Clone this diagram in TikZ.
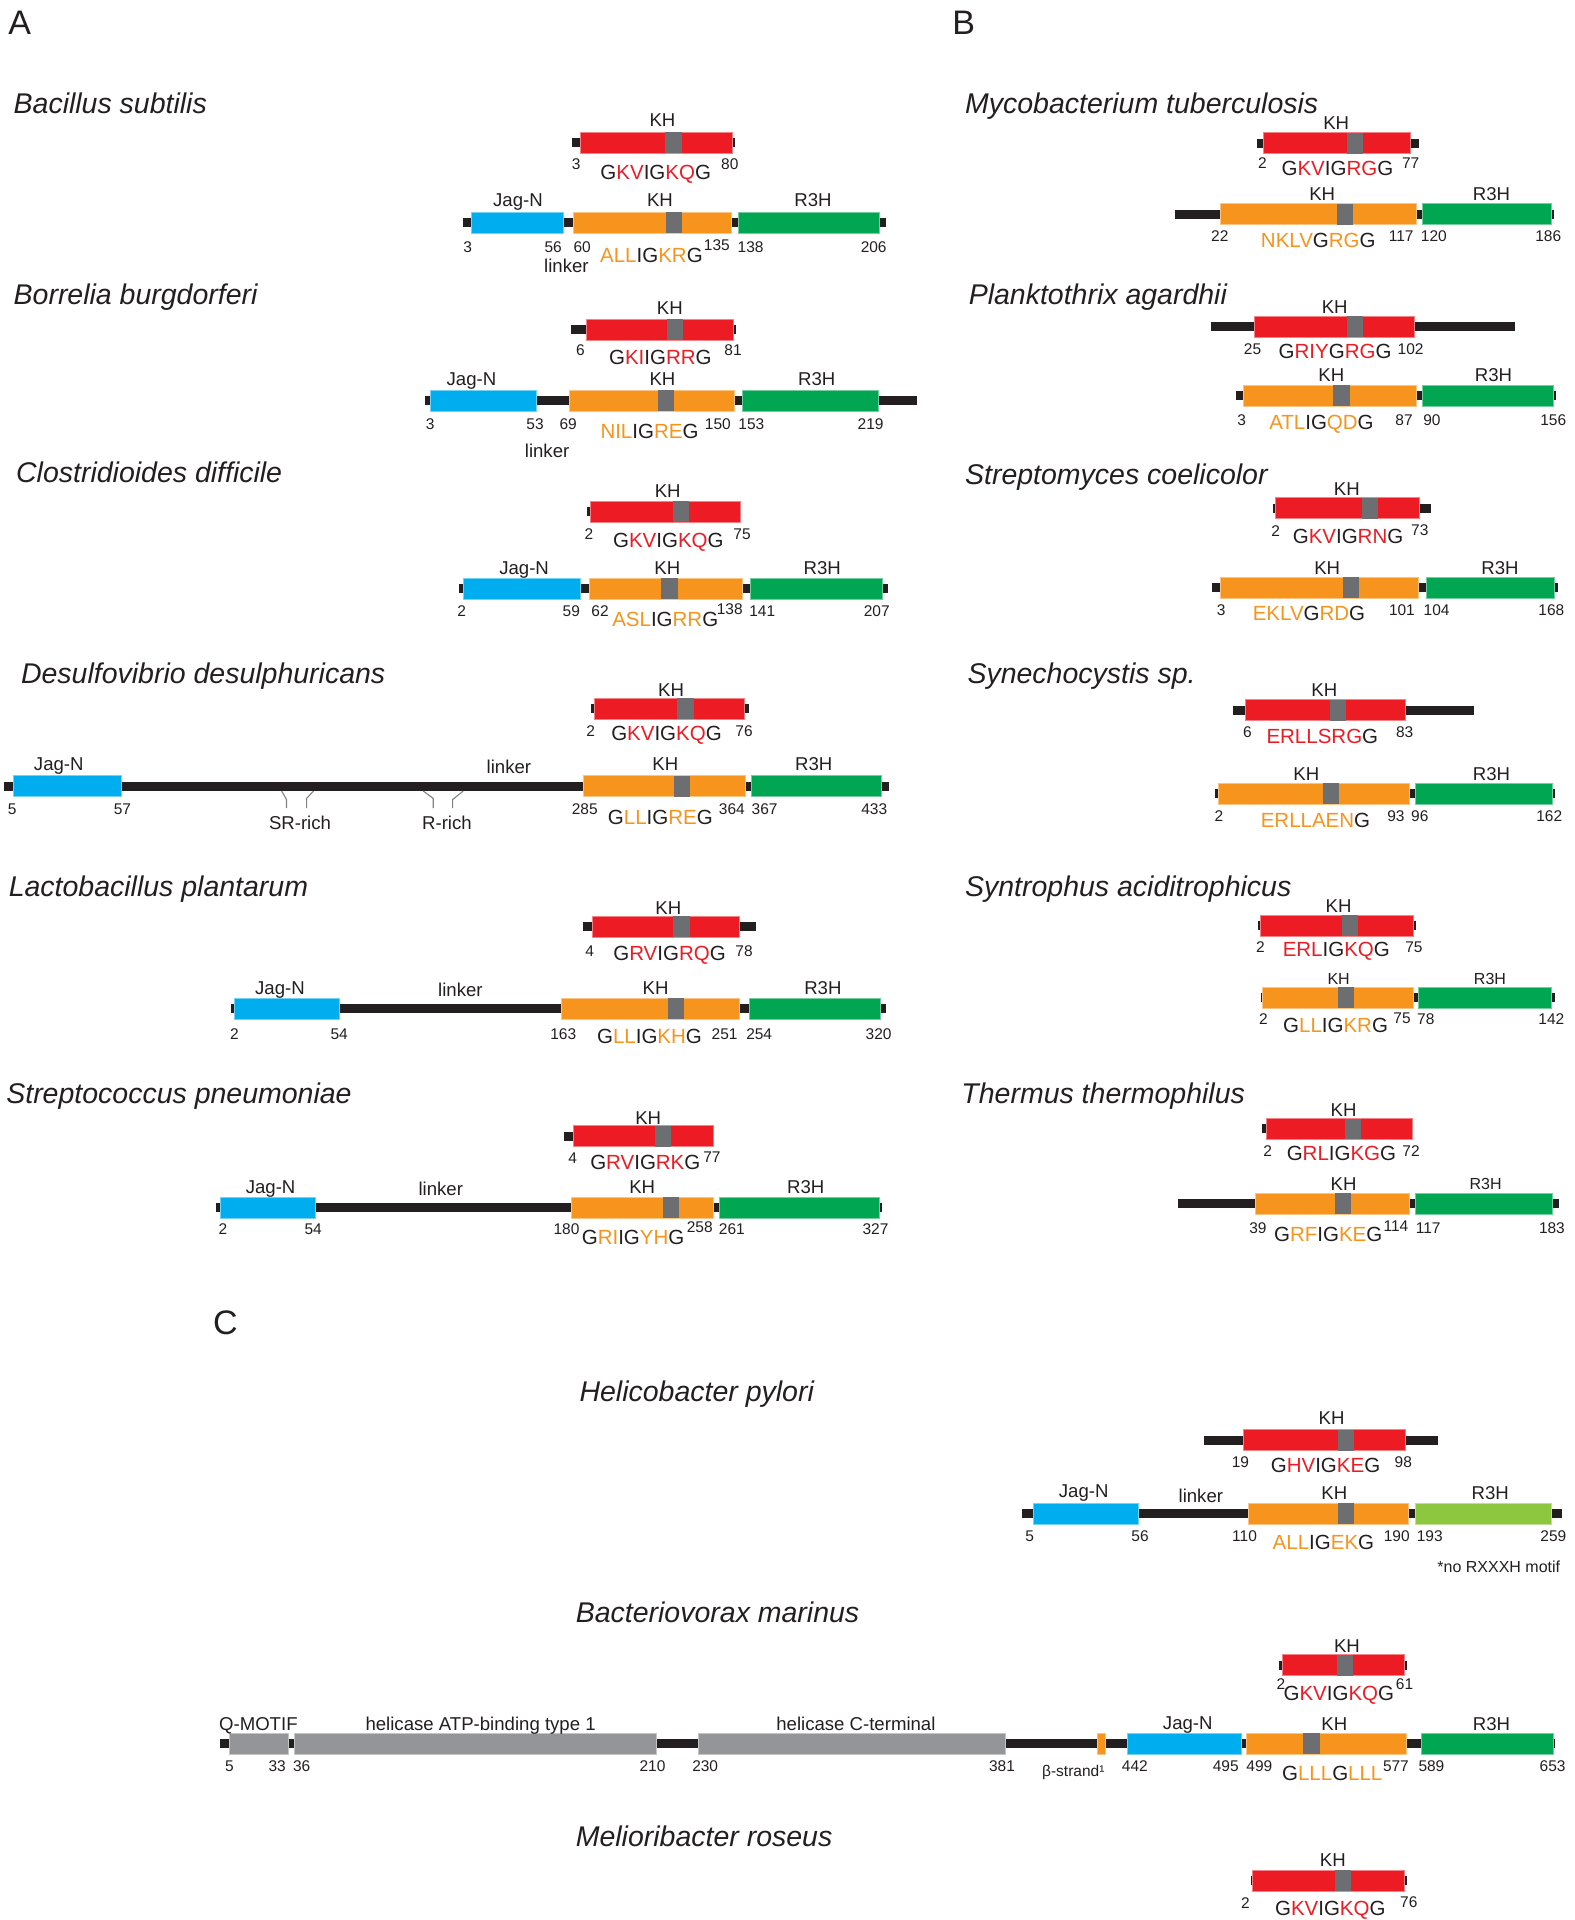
\documentclass[tikz,border=0pt]{standalone}
\usepackage{fontspec}
\setmainfont{Liberation Sans}
\definecolor{kred}{HTML}{ED1C24}
\definecolor{korange}{HTML}{F7941D}
\definecolor{kblue}{HTML}{00AEEF}
\definecolor{kgreen}{HTML}{00A651}
\definecolor{klgreen}{HTML}{8DC63F}
\definecolor{khel}{HTML}{939598}
\definecolor{kmotif}{HTML}{6D6E71}
\definecolor{kblack}{HTML}{231F20}
\definecolor{kbrack}{HTML}{808285}
\newcommand\sr[1]{\textcolor{kred}{#1}}
\newcommand\so[1]{\textcolor{korange}{#1}}
\newcommand\bbone[3]{\draw[bbl] (#1,#3) -- (#2,#3);}
\newcommand\pdom[4]{\filldraw[fill=#4,draw=#4!55!white,line width=0.7pt] (#1,#3-8.57) rectangle (#2,#3+8.57);}
\newcommand\pmot[2]{\fill[kmotif] (#1-6.6,#2-8.57) rectangle (#1+6.6,#2+8.57);}
\newcommand\lab[3]{\node[lab] at (#1,#2) {#3};}
\newcommand\slab[3]{\node[lab,font=\fontsize{16}{18}\selectfont,text height=11.5pt] at (#1,#2) {#3};}
\newcommand\nm[3]{\node[num] at (#1,#2) {#3};}
\newcommand\sq[3]{\node[sqs] at (#1,#2) {#3};}
\newcommand\spc[3]{\node[spn,anchor=west] at (#1,#2) {#3};}
\newcommand\spcc[3]{\node[spn] at (#1,#2) {#3};}
\begin{document}
\begin{tikzpicture}[x=1.2247pt,y=-1.2247pt,
  bbl/.style={line width=9pt,color=kblack},
  lab/.style={font=\fontsize{18.6}{20}\selectfont,inner sep=0pt,text height=13.3pt,text depth=0pt,anchor=center,text=kblack},
  num/.style={font=\fontsize{15.5}{17}\selectfont,inner sep=0pt,text height=11.1pt,text depth=0pt,anchor=center,text=kblack},
  sqs/.style={font=\fontsize{20.5}{22}\selectfont,inner sep=0pt,text height=14.7pt,text depth=0pt,anchor=center,text=kblack},
  spn/.style={font=\fontsize{28.5}{30}\selectfont\itshape,inner sep=0pt,text height=20.4pt,text depth=0pt,anchor=center,text=kblack},
  pl/.style={font=\fontsize{34}{36}\selectfont,inner sep=0pt,text height=24.4pt,text depth=0pt,anchor=center,text=kblack},
  brk/.style={draw=kbrack,line width=1.1pt}]
\fill[white] (0,0) rectangle (1286,1568);
\useasboundingbox (0,0) rectangle (1286,1568);
% panel letters
\node[pl] (pA) at (16,18) {A};
\node[pl] (pB) at (787,18) {B};
\node[pl] (pC) at (184,1080) {C};
% species
\spc{11}{84}{Bacillus subtilis}
\spc{11}{240}{Borrelia burgdorferi}
\spc{13}{386}{Clostridioides difficile}
\spc{17}{550}{Desulfovibrio desulphuricans}
\spc{7}{724}{Lactobacillus plantarum}
\spc{5}{893}{Streptococcus pneumoniae}
\spc{788}{84}{Mycobacterium tuberculosis}
\spc{791}{240}{Planktothrix agardhii}
\spc{788}{387}{Streptomyces coelicolor}
\spc{790}{550}{Synechocystis sp.}
\spc{788}{724}{Syntrophus aciditrophicus}
\spc{785}{893}{Thermus thermophilus}
\spcc{569}{1136}{Helicobacter pylori}
\spcc{586}{1317}{Bacteriovorax marinus}
\spcc{575}{1500}{Melioribacter roseus}
% ===== A: Bacillus subtilis
\bbone{467}{600.5}{116.5}
\pdom{474}{597.7}{116.5}{kred}
\pmot{550}{116.5}
\lab{541}{97.5}{KH}
\nm{470.5}{133.5}{3}
\nm{596}{133.5}{80}
\sq{535.5}{140.5}{G\sr{KV}IG\sr{KQ}G}
\bbone{378.5}{723.5}{182}
\pdom{385}{460}{182}{kblue}
\pdom{468.6}{597.2}{182}{korange}
\pmot{550.4}{182}
\pdom{602.7}{718}{182}{kgreen}
\lab{423}{163}{Jag-N}
\lab{539}{163}{KH}
\lab{664}{163}{R3H}
\nm{382}{201.5}{3}
\nm{451.8}{201.5}{56}
\nm{475.5}{201.5}{60}
\nm{585.4}{200}{135}
\nm{613}{201.5}{138}
\nm{713.5}{201.5}{206}
\sq{532}{208.5}{\so{ALL}IG\so{KR}G}
\lab{462.6}{217}{linker}
% ===== Borrelia burgdorferi
\bbone{466}{601}{269}
\pdom{479}{598.7}{269}{kred}
\pmot{551}{269}
\lab{547}{251}{KH}
\nm{474}{286}{6}
\nm{598.7}{286}{81}
\sq{539.3}{292}{G\sr{KI}IG\sr{RR}G}
\bbone{347.4}{748.6}{327}
\pdom{351.8}{438.4}{327}{kblue}
\pdom{465}{600}{327}{korange}
\pmot{544}{327}
\pdom{606}{717.5}{327}{kgreen}
\lab{385}{309}{Jag-N}
\lab{541}{309}{KH}
\lab{667}{309}{R3H}
\nm{351.3}{346.5}{3}
\nm{437}{346.5}{53}
\nm{464}{346.5}{69}
\nm{586.3}{346.5}{150}
\nm{613.6}{346.5}{153}
\nm{711}{346.5}{219}
\sq{530.4}{352}{\so{NIL}IG\so{RE}G}
\lab{446.8}{368}{linker}
% ===== Clostridioides difficile
\bbone{479}{604.7}{418}
\pdom{482.4}{604.7}{418}{kred}
\pmot{556}{418}
\lab{545.3}{401}{KH}
\nm{481}{436}{2}
\nm{606}{436}{75}
\sq{545.8}{441}{G\sr{KV}IG\sr{KQ}G}
\bbone{374.6}{725.4}{481}
\pdom{378}{474}{481}{kblue}
\pdom{481}{606}{481}{korange}
\pmot{546.8}{481}
\pdom{612.6}{720.4}{481}{kgreen}
\lab{428}{463.5}{Jag-N}
\lab{545}{463.5}{KH}
\lab{671.5}{463.5}{R3H}
\nm{377}{499}{2}
\nm{466.6}{499}{59}
\nm{490}{499}{62}
\nm{596}{497}{138}
\nm{622.5}{499}{141}
\nm{716}{499}{207}
\sq{543.3}{506}{\so{ASL}IG\so{RR}G}
% ===== Desulfovibrio desulphuricans
\bbone{483}{611.6}{579}
\pdom{485}{607.6}{579}{kred}
\pmot{559.8}{579}
\lab{548}{563}{KH}
\nm{482.4}{597}{2}
\nm{607.6}{597}{76}
\sq{544.3}{599}{G\sr{KV}IG\sr{KQ}G}
\bbone{3.5}{726.4}{642}
\pdom{10.9}{99}{642}{kblue}
\pdom{476.5}{608.6}{642}{korange}
\pmot{557}{642}
\pdom{613.6}{720}{642}{kgreen}
\lab{48}{624}{Jag-N}
\lab{415.6}{626}{linker}
\lab{543.3}{624}{KH}
\lab{664.5}{624}{R3H}
\nm{10}{661}{5}
\nm{100}{661}{57}
\nm{477.5}{661}{285}
\nm{597.7}{661}{364}
\nm{624.4}{661}{367}
\nm{714}{661}{433}
\sq{539.3}{667}{G\so{LL}IG\so{RE}G}
\draw[brk] (230,646) -- (234,653) -- (234,660);
\draw[brk] (256,646) -- (250.4,652) -- (250.4,660);
\draw[brk] (345.6,646) -- (353.8,652) -- (353.8,660);
\draw[brk] (378.3,646) -- (369.6,653) -- (369.6,660);
\lab{245}{672}{SR-rich}
\lab{365}{672}{R-rich}
% ===== Lactobacillus plantarum
\bbone{476}{617.5}{757}
\pdom{484}{603.7}{757}{kred}
\pmot{556.5}{757}
\lab{545.8}{741}{KH}
\nm{481.5}{777}{4}
\nm{607.6}{777}{78}
\sq{546.8}{778}{G\sr{RV}IG\sr{RQ}G}
\bbone{189}{723.4}{824}
\pdom{191}{277}{824}{kblue}
\pdom{458.7}{603.7}{824}{korange}
\pmot{552.4}{824}
\pdom{611.6}{719}{824}{kgreen}
\lab{228.6}{806.5}{Jag-N}
\lab{376}{808}{linker}
\lab{535.4}{806.5}{KH}
\lab{672}{806.5}{R3H}
\nm{191.5}{844}{2}
\nm{277}{844}{54}
\nm{460}{844}{163}
\nm{591.8}{844}{251}
\nm{620}{844}{254}
\nm{717.5}{844}{320}
\sq{530.4}{846}{G\so{LL}IG\so{KH}G}
% ===== Streptococcus pneumoniae
\bbone{461}{582.4}{928}
\pdom{468}{582.4}{928}{kred}
\pmot{541.5}{928}
\lab{529.4}{913}{KH}
\nm{467.6}{946}{4}
\nm{581.4}{945}{77}
\sq{527}{949}{G\sr{RV}IG\sr{RK}G}
\bbone{176.6}{720}{986}
\pdom{180}{257.3}{986}{kblue}
\pdom{466.6}{582.4}{986}{korange}
\pmot{548}{986}
\pdom{587.8}{718}{986}{kgreen}
\lab{221}{969}{Jag-N}
\lab{360}{971}{linker}
\lab{524.5}{969}{KH}
\lab{658}{969}{R3H}
\nm{182}{1003.5}{2}
\nm{255.8}{1003.5}{54}
\nm{462.6}{1003.5}{180}
\nm{571.5}{1002}{258}
\nm{597.7}{1003.5}{261}
\nm{715}{1003.5}{327}
\sq{517}{1010}{G\so{RI}IG\so{YH}G}
% ===== B: Mycobacterium tuberculosis
\bbone{1026.2}{1159}{117}
\pdom{1031.7}{1152}{117}{kred}
\pmot{1106.8}{117}
\lab{1091.2}{100}{KH}
\nm{1031}{133}{2}
\nm{1152}{133}{77}
\sq{1092.2}{137}{G\sr{KV}IG\sr{RG}G}
\bbone{959.5}{1269}{175}
\pdom{996.9}{1156.3}{175}{korange}
\pmot{1098.7}{175}
\pdom{1161.8}{1266.9}{175}{kgreen}
\lab{1079.8}{158}{KH}
\lab{1218}{158}{R3H}
\nm{996.2}{193}{22}
\nm{1144.3}{193}{117}
\nm{1171}{193}{120}
\nm{1264.4}{193}{186}
\sq{1076.6}{196.5}{\so{NKLV}G\so{RG}G}
% ===== Planktothrix agardhii
\bbone{988.7}{1236.9}{267}
\pdom{1024.4}{1154.9}{267}{kred}
\pmot{1106.8}{267}
\lab{1090}{250.5}{KH}
\nm{1022.9}{285}{25}
\nm{1152}{285}{102}
\sq{1090.3}{286.5}{G\sr{RIY}G\sr{RG}G}
\bbone{1009.2}{1270.7}{323}
\pdom{1015.4}{1156.3}{323}{korange}
\pmot{1095.5}{323}
\pdom{1161.2}{1268.5}{323}{kgreen}
\lab{1087.3}{306}{KH}
\lab{1219.7}{306}{R3H}
\nm{1014}{343}{3}
\nm{1146.6}{343}{87}
\nm{1169.4}{343}{90}
\nm{1268.5}{343}{156}
\sq{1079.2}{345}{\so{ATL}IG\so{QD}G}
% ===== Streptomyces coelicolor
\bbone{1039.2}{1168.3}{415}
\pdom{1041.8}{1159.5}{415}{kred}
\pmot{1118.8}{415}
\lab{1099.9}{399}{KH}
\nm{1041.8}{434}{2}
\nm{1159.5}{433}{73}
\sq{1100.9}{438}{G\sr{KV}IG\sr{RN}G}
\bbone{989.7}{1272.7}{480}
\pdom{996.9}{1158.5}{480}{korange}
\pmot{1103.5}{480}
\pdom{1164.8}{1269.5}{480}{kgreen}
\lab{1083.9}{463.5}{KH}
\lab{1225}{463.5}{R3H}
\nm{997.2}{498}{3}
\nm{1144.9}{498}{101}
\nm{1173.2}{498}{104}
\nm{1266.9}{498}{168}
\sq{1069}{501}{\so{EKLV}G\so{RD}G}
% ===== Synechocystis sp.
\bbone{1006.6}{1203.4}{580}
\pdom{1017}{1147.5}{580}{kred}
\pmot{1092.5}{580}
\lab{1081.5}{563}{KH}
\nm{1018.7}{598}{6}
\nm{1147.2}{598}{83}
\sq{1079.9}{601}{\sr{ERLLSRG}G}
\bbone{992.6}{1270}{648}
\pdom{995.2}{1150.7}{648}{korange}
\pmot{1087}{648}
\pdom{1155.5}{1267.8}{648}{kgreen}
\lab{1066.8}{632}{KH}
\lab{1218}{632}{R3H}
\nm{995.5}{666}{2}
\nm{1140}{666}{93}
\nm{1159.5}{666}{96}
\nm{1265.2}{666}{162}
\sq{1074.3}{670}{\so{ERLLAEN}G}
% ===== Syntrophus aciditrophicus
\bbone{1027.5}{1156.5}{756}
\pdom{1029.1}{1154.3}{756}{kred}
\pmot{1102.2}{756}
\lab{1093.2}{740}{KH}
\nm{1029.4}{773}{2}
\nm{1154.7}{773}{75}
\sq{1091.3}{775}{\sr{ERL}IG\sr{KQ}G}
\bbone{1029.4}{1270}{815}
\pdom{1031}{1154.3}{815}{korange}
\pmot{1099}{815}
\pdom{1158}{1267}{815}{kgreen}
\slab{1093.2}{799}{KH}
\slab{1216.8}{799}{R3H}
\nm{1031.7}{832}{2}
\nm{1145}{831}{75}
\nm{1164.4}{832}{78}
\nm{1266.9}{832}{142}
\sq{1090.7}{837}{G\so{LL}IG\so{KR}G}
% ===== Thermus thermophilus
\bbone{1031}{1153.4}{922}
\pdom{1034.4}{1153.4}{922}{kred}
\pmot{1104.6}{922}
\lab{1097.2}{906}{KH}
\nm{1035.3}{940}{2}
\nm{1152.4}{940}{72}
\sq{1095.5}{942}{G\sr{RL}IG\sr{KG}G}
\bbone{962}{1273.5}{983}
\pdom{1025.4}{1151.3}{983}{korange}
\pmot{1096.8}{983}
\pdom{1156}{1267.4}{983}{kgreen}
\lab{1097.2}{967}{KH}
\slab{1213.2}{967}{R3H}
\nm{1027.3}{1002.5}{39}
\nm{1140}{1001}{114}
\nm{1166.4}{1002.5}{117}
\nm{1267.4}{1002.5}{183}
\sq{1084.7}{1008}{G\so{RF}IG\so{KE}G}
% ===== C: Helicobacter pylori
\bbone{983}{1174.4}{1176}
\pdom{1015}{1148}{1176}{kred}
\pmot{1099.5}{1176}
\lab{1087.4}{1158}{KH}
\nm{1013}{1194}{19}
\nm{1146}{1194}{98}
\sq{1082.5}{1196.5}{G\sr{HV}IG\sr{KE}G}
\bbone{835}{1276}{1236}
\pdom{844}{930}{1236}{kblue}
\pdom{1019.7}{1150.5}{1236}{korange}
\pmot{1099.5}{1236}
\pdom{1156}{1267.3}{1236}{klgreen}
\lab{885}{1217.5}{Jag-N}
\lab{980.7}{1221.5}{linker}
\lab{1089.7}{1219.5}{KH}
\lab{1217}{1219.5}{R3H}
\nm{840.8}{1254.5}{5}
\nm{931}{1254.5}{56}
\nm{1016.4}{1254.5}{110}
\nm{1140.7}{1254.5}{190}
\nm{1167.6}{1254.5}{193}
\nm{1268.6}{1254.5}{259}
\sq{1080.8}{1259.5}{\so{ALL}IG\so{EK}G}
\node[num,font=\fontsize{16}{18}\selectfont] (note) at (1224,1280) {*no RXXXH motif};
% ===== Bacteriovorax marinus
\bbone{1044.5}{1149}{1360}
\pdom{1047.4}{1147.2}{1360}{kred}
\pmot{1098.6}{1360}
\lab{1100}{1344}{KH}
\nm{1046}{1375}{2}
\nm{1147}{1375}{61}
\sq{1093.4}{1383}{G\sr{KV}IG\sr{KQ}G}
\bbone{180}{1270}{1424}
\pdom{187.4}{235.5}{1424}{khel}
\pdom{240}{535.7}{1424}{khel}
\pdom{570}{821.3}{1424}{khel}
\pdom{896}{902.6}{1424}{korange}
\pdom{920.5}{1013.8}{1424}{kblue}
\pdom{1018}{1148.2}{1424}{korange}
\pmot{1071}{1424}
\pdom{1160.5}{1268.5}{1424}{kgreen}
\lab{211}{1408}{Q-MOTIF}
\lab{392.5}{1408}{helicase ATP-binding type 1}
\lab{699}{1408}{helicase C-terminal}
\lab{970}{1407}{Jag-N}
\lab{1089.7}{1408}{KH}
\lab{1218}{1408}{R3H}
\nm{187.4}{1442.5}{5}
\nm{226.4}{1442.5}{33}
\nm{246.4}{1442.5}{36}
\nm{532.9}{1442.5}{210}
\nm{575.9}{1442.5}{230}
\nm{818.3}{1442.5}{381}
\nm{876.5}{1446}{β-strand¹}
\nm{926.8}{1442.5}{442}
\nm{1001}{1442.5}{495}
\nm{1028.5}{1442.5}{499}
\nm{1140}{1442.5}{577}
\nm{1169}{1442.5}{589}
\nm{1268}{1442.5}{653}
\sq{1088}{1448}{G\so{LLL}G\so{LLL}}
% ===== Melioribacter roseus
\bbone{1021.5}{1149}{1536}
\pdom{1023}{1147.2}{1536}{kred}
\pmot{1096.8}{1536}
\lab{1088.5}{1519}{KH}
\nm{1017}{1554}{2}
\nm{1150.5}{1553}{76}
\sq{1086.4}{1558}{G\sr{KV}IG\sr{KQ}G}
\end{tikzpicture}
\end{document}
